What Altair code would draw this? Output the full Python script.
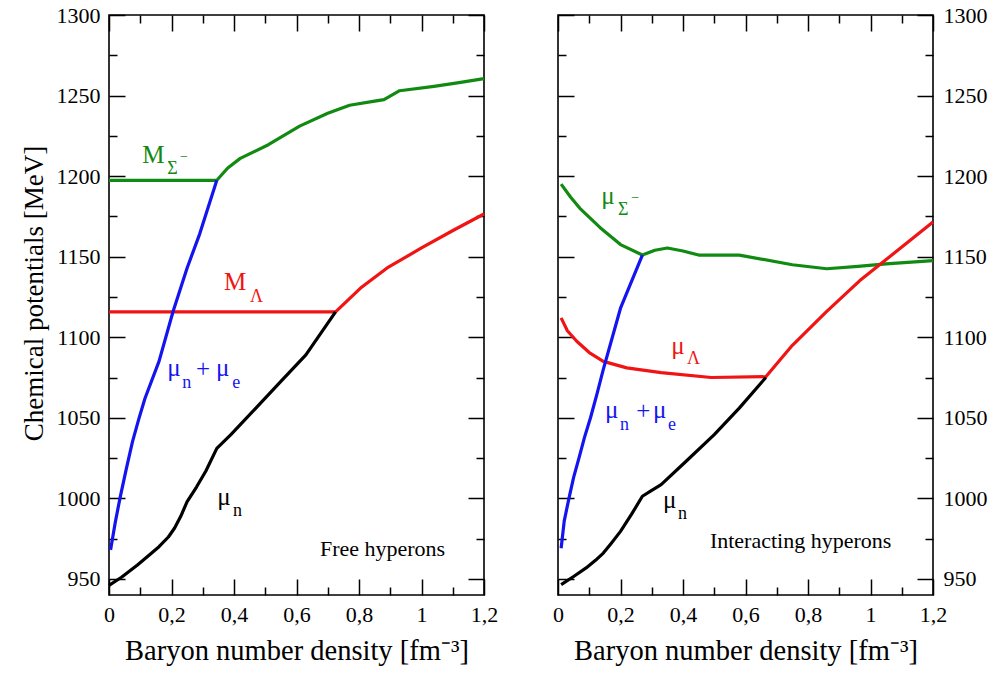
import altair as alt
import pandas as pd

# ---------------- data ----------------
# Left panel: free hyperons
L_mun_x = [0.0, 0.04, 0.09, 0.13, 0.16, 0.19, 0.21, 0.23, 0.25, 0.28, 0.31, 0.345, 0.39, 0.47, 0.55, 0.63, 0.725]
L_mun_y = [946, 951, 958.5, 965, 970, 976, 981.6, 989, 998, 1007, 1017, 1031, 1039.5, 1056, 1072.6, 1089, 1115.7]
L_mune_x = [0.005, 0.02, 0.035, 0.055, 0.075, 0.095, 0.115, 0.16, 0.205, 0.25, 0.29, 0.345]
L_mune_y = [968, 985, 1000, 1018, 1035, 1049, 1062, 1085, 1116, 1143, 1164, 1197.4]
L_sig_x = [0.0, 0.345, 0.38, 0.42, 0.51, 0.61, 0.70, 0.77, 0.85, 0.88, 0.93, 1.04, 1.12, 1.2]
L_sig_y = [1197.4, 1197.4, 1205, 1211, 1219.5, 1231, 1239, 1244, 1246.5, 1247.5, 1253, 1255.7, 1258, 1260.5]
L_lam_x = [0.0, 0.725, 0.805, 0.89, 1.0, 1.105, 1.2]
L_lam_y = [1115.7, 1115.7, 1130.5, 1143, 1155.4, 1166.7, 1176.5]

# Right panel: interacting hyperons
R_mun_x = [0.01, 0.05, 0.09, 0.12, 0.145, 0.17, 0.2, 0.235, 0.27, 0.30, 0.33, 0.41, 0.5, 0.58, 0.665]
R_mun_y = [946.4, 951.5, 956.8, 961.5, 966, 972, 979.5, 990, 1001.3, 1005, 1008.5, 1023, 1039.5, 1056, 1075]
R_mune_x = [0.01, 0.02, 0.035, 0.05, 0.067, 0.085, 0.104, 0.125, 0.145, 0.2, 0.27]
R_mune_y = [969, 986, 1000, 1013, 1025, 1038, 1050, 1065, 1080, 1118, 1151]
R_sig_x = [0.01, 0.04, 0.07, 0.135, 0.2, 0.27, 0.31, 0.35, 0.40, 0.45, 0.58, 0.75, 0.86, 0.96, 1.05, 1.2]
R_sig_y = [1195, 1187, 1180, 1168, 1157.5, 1151, 1154, 1155.4, 1153.5, 1151, 1151, 1145, 1142.5, 1144, 1145.5, 1147.5]
R_lam_x = [0.01, 0.03, 0.06, 0.1, 0.145, 0.22, 0.33, 0.49, 0.665, 0.75, 0.86, 0.965, 1.2]
R_lam_y = [1112, 1104, 1097.5, 1090.5, 1085, 1081, 1078, 1075, 1075.5, 1095, 1116, 1135, 1171.5]

# tick values and labels
x_major = [0, 0.2, 0.4, 0.6, 0.8, 1.0, 1.2]
x_major_labels = ["0", "0,2", "0,4", "0,6", "0,8", "1", "1,2"]
x_minor = [0.1, 0.3, 0.5, 0.7, 0.9, 1.1]
y_major = [950, 1000, 1050, 1100, 1150, 1200, 1250, 1300]
y_minor = [975, 1025, 1075, 1125, 1175, 1225, 1275]

# annotations (text, x, y in data units)
L_ann_text = ["M", "Σ", "−", "M", "Λ", "μ", "n", "+", "μ", "e", "μ", "n", "Free hyperons"]
L_ann_x = [0.106, 0.186, 0.227, 0.368, 0.451, 0.186, 0.234, 0.278, 0.342, 0.394, 0.346, 0.397, 0.675]
L_ann_y = [1208.1, 1201.3, 1209.4, 1129.3, 1121.9, 1075.9, 1068.5, 1075.3, 1075.9, 1068.5, 995.9, 989.0, 964.2]
L_ann_kind = ["main", "sub", "sup", "main", "sub", "main", "sub", "main", "main", "sub", "main", "sub", "note"]
L_ann_series = ["sig", "sig", "sig", "lam", "lam", "mune", "mune", "mune", "mune", "mune", "mun", "mun", "mun"]

R_ann_text = ["μ", "Σ", "−", "μ", "Λ", "μ", "n", "+", "μ", "e", "μ", "n", "Interacting hyperons"]
R_ann_x = [0.138, 0.192, 0.234, 0.362, 0.413, 0.150, 0.198, 0.250, 0.304, 0.352, 0.336, 0.384, 0.486]
R_ann_y = [1182.7, 1175.9, 1183.9, 1089.6, 1083.4, 1049.9, 1042.4, 1049.2, 1049.9, 1042.4, 994.0, 987.2, 969.2]
R_ann_kind = L_ann_kind
R_ann_series = L_ann_series

# ---------------- styling ----------------
FONT = "Liberation Serif"
COLORS = {"mun": "#000000", "mune": "#1414f0", "sig": "#118a11", "lam": "#f01414"}
SIZES = {"main": 25, "sub": 18, "sup": 14, "note": 22}
W, H = 375, 580


def lines_df(series):
    rows = []
    for name, xs_, ys_ in series:
        for i, (a, b) in enumerate(zip(xs_, ys_)):
            rows.append({"x": a, "y": b, "series": name, "color": COLORS[name], "i": i})
    return pd.DataFrame(rows)


def ann_df(text, xs_, ys_, kinds, series):
    return pd.DataFrame({
        "x": xs_, "y": ys_, "text": text,
        "size": [SIZES[k] for k in kinds],
        "color": [COLORS[s] for s in series],
    })


xsc = alt.Scale(domain=[0, 1.2], nice=False, zero=False)
ysc = alt.Scale(domain=[940, 1300], nice=False, zero=False)
label_expr = "[" + ",".join("'%s'" % s for s in x_major_labels) + "][round(datum.value*5)]"


def panel(df, ann, y_orient, y_title):
    x_axis = alt.Axis(orient="bottom", values=x_major, labelExpr=label_expr, ticks=False, tickSize=0,
                      domain=False, grid=False, labelFont=FONT, labelFontSize=22, labelColor="black",
                      labelPadding=9, labelFlush=False, labelOverlap=False,
                      title="Baryon number density [fm⁻³]", titleFont=FONT, titleFontSize=28.5,
                      titleFontWeight="normal", titleColor="black", titlePadding=11)
    if y_title:
        y_axis = alt.Axis(orient=y_orient, values=y_major, format="d", ticks=False, tickSize=0,
                          domain=False, grid=False,
                          labelFont=FONT, labelFontSize=22, labelColor="black", labelPadding=9,
                          labelFlush=False, labelOverlap=False,
                          title=y_title, titleFont=FONT, titleFontSize=27, titleFontWeight="normal",
                          titleColor="black", titlePadding=8, titleY=278)
    else:
        y_axis = alt.Axis(orient=y_orient, values=y_major, format="d", ticks=False, tickSize=0,
                          domain=False, grid=False,
                          labelFont=FONT, labelFontSize=22, labelColor="black", labelPadding=10,
                          labelFlush=False, labelOverlap=False, title=None)

    lines = alt.Chart(df).mark_line(strokeWidth=3.2, strokeJoin="round").encode(
        x=alt.X("x:Q", scale=xsc, axis=x_axis),
        y=alt.Y("y:Q", scale=ysc, axis=y_axis),
        color=alt.Color("color:N", scale=None),
        detail="series:N",
        order="i:Q",
    )

    def ticks(xo, yo, xv, yv, size):
        return alt.Chart(df).mark_line(strokeOpacity=0).encode(
            x=alt.X("x:Q", scale=xsc, axis=alt.Axis(orient=xo, offset=-H, values=xv, tickSize=size,
                                                    labels=False, domain=False, grid=False, title=None)),
            y=alt.Y("y:Q", scale=ysc, axis=alt.Axis(orient=yo, offset=-W, values=yv, tickSize=size,
                                                    labels=False, domain=False, grid=False, title=None)),
            detail="series:N",
        )

    text = alt.Chart(ann).mark_text(align="left", baseline="alphabetic", font=FONT).encode(
        x=alt.X("x:Q", scale=xsc, axis=None),
        y=alt.Y("y:Q", scale=ysc, axis=None),
        text="text:N",
        size=alt.Size("size:Q", scale=None),
        color=alt.Color("color:N", scale=None),
    )

    return alt.layer(
        lines,
        ticks("top", "right", x_major, y_major, 16),
        ticks("top", "right", x_minor, y_minor, 8),
        ticks("bottom", "left", x_major, y_major, 16),
        ticks("bottom", "left", x_minor, y_minor, 8),
        text,
    ).resolve_axis(x="independent", y="independent").properties(width=W, height=H)


left_df = lines_df([("sig", L_sig_x, L_sig_y), ("lam", L_lam_x, L_lam_y),
                    ("mun", L_mun_x, L_mun_y), ("mune", L_mune_x, L_mune_y)])
right_df = lines_df([("sig", R_sig_x, R_sig_y), ("lam", R_lam_x, R_lam_y),
                     ("mun", R_mun_x, R_mun_y), ("mune", R_mune_x, R_mune_y)])

left = panel(left_df, ann_df(L_ann_text, L_ann_x, L_ann_y, L_ann_kind, L_ann_series),
             "left", "Chemical potentials [MeV]")
right = panel(right_df, ann_df(R_ann_text, R_ann_x, R_ann_y, R_ann_kind, R_ann_series),
              "right", None)

chart = alt.hconcat(left, right, spacing=74, bounds="flush").properties(
    padding={"left": 19, "top": 3, "right": 5, "bottom": 5},
    background="white",
).configure_view(stroke="black", strokeWidth=1.6).configure_axis(
    tickColor="black", tickWidth=1.5, labelFont=FONT, titleFont=FONT
)

chart.save("out.html", embed_options={"renderer": "svg", "actions": False})
